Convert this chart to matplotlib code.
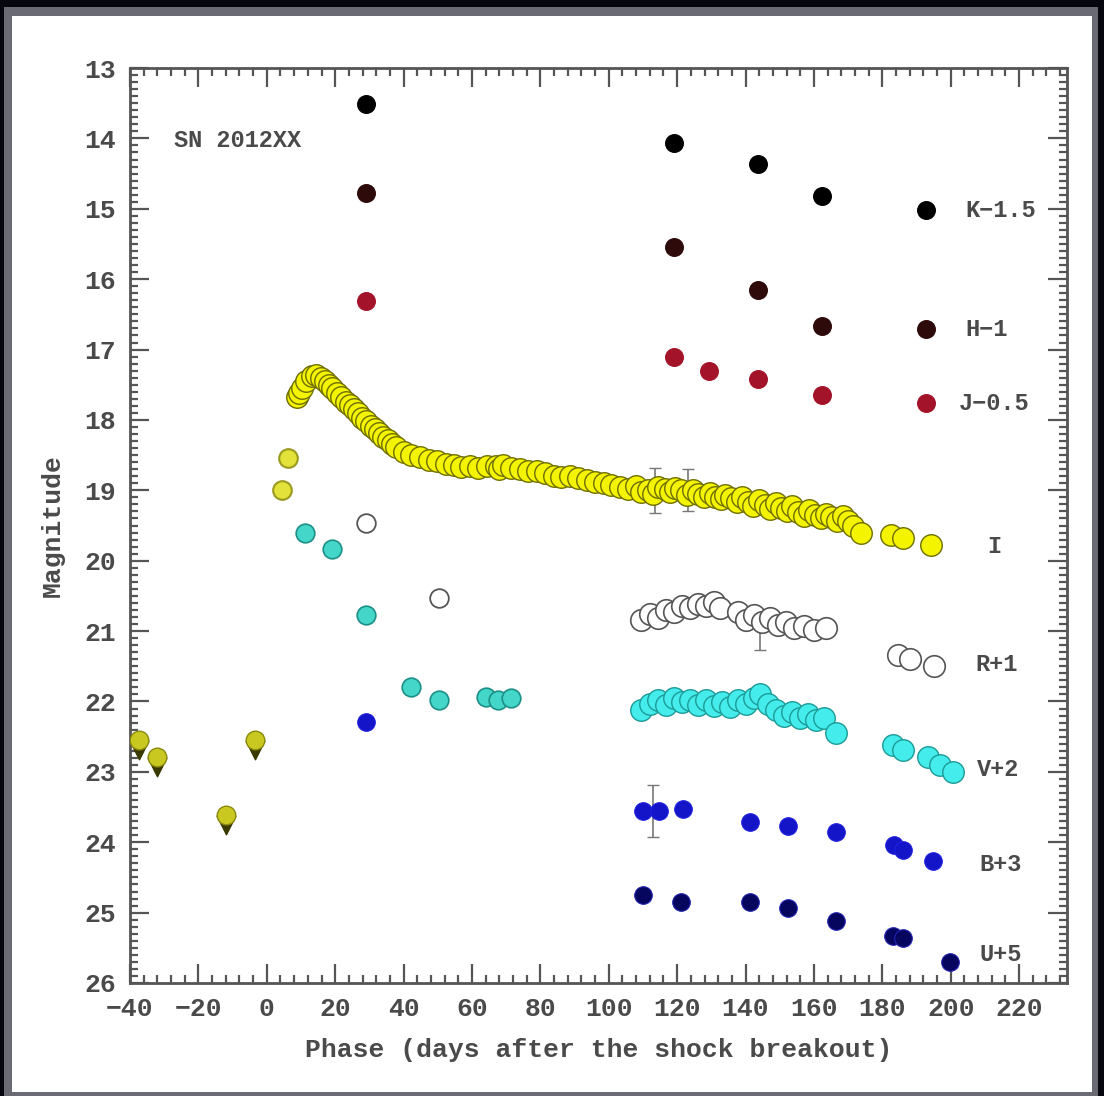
import matplotlib
matplotlib.use("Agg")
import matplotlib.pyplot as plt
from matplotlib.patches import Rectangle
from matplotlib.ticker import MultipleLocator

# ---- data (phase in days, magnitude with offsets) ----
K_x = [28.9, 119.1, 143.6, 162.3, 192.7]
K_y = [13.51, 14.07, 14.36, 14.82, 15.02]

H_x = [28.9, 119.1, 143.6, 162.3, 192.7]
H_y = [14.78, 15.54, 16.15, 16.66, 16.71]

J_x = [28.9, 119.1, 129.3, 143.6, 162.3, 192.7]
J_y = [16.31, 17.10, 17.30, 17.42, 17.64, 17.76]

I_x = [8.8, 9.5, 10.2, 11.6, 13.1, 14.4, 15.8, 17.0, 18.1, 19.2, 20.4, 21.8,
       23.1, 24.2, 25.4, 26.6, 27.7, 29.0, 30.4, 31.6, 32.7, 34.0, 35.3, 36.5,
       37.7, 40.0, 42.3, 44.8, 47.3, 49.8, 52.3, 54.6, 56.9, 59.4, 61.9, 64.4,
       66.9, 68.0, 69.2, 71.5, 74.0, 76.5, 79.0, 81.5, 84.0, 86.1, 88.6, 91.1,
       93.6, 96.1, 98.5, 100.7, 103.2, 105.7, 108.0, 109.5, 111.5, 113.0, 114.5,
       116.5, 118.0, 119.5, 121.2, 122.8, 124.5, 126.1, 127.8, 129.5, 131.1,
       132.8, 134.0, 135.8, 137.5, 139.0, 140.7, 142.2, 143.8, 145.7, 147.2,
       148.8, 150.4, 152.0, 153.6, 155.3, 157.0, 158.6, 160.3, 162.0, 163.5,
       165.0, 166.8, 168.4, 170.0, 171.5, 173.7, 182.5, 186.0, 194.2]
I_y = [17.67, 17.62, 17.55, 17.45, 17.38, 17.36, 17.40, 17.44, 17.50, 17.55,
       17.62, 17.67, 17.74, 17.79, 17.85, 17.90, 17.97, 18.02, 18.08, 18.13,
       18.19, 18.24, 18.29, 18.34, 18.39, 18.45, 18.50, 18.53, 18.57, 18.59,
       18.62, 18.64, 18.67, 18.66, 18.68, 18.66, 18.65, 18.70, 18.64, 18.68,
       18.70, 18.72, 18.73, 18.76, 18.80, 18.81, 18.80, 18.83, 18.86, 18.88,
       18.90, 18.93, 18.95, 18.98, 18.94, 19.02, 18.99, 19.05, 18.95, 18.98,
       19.03, 18.97, 19.00, 19.06, 19.00, 19.05, 19.10, 19.04, 19.09, 19.13,
       19.06, 19.11, 19.16, 19.10, 19.16, 19.22, 19.14, 19.21, 19.26, 19.18,
       19.25, 19.30, 19.23, 19.31, 19.36, 19.28, 19.35, 19.40, 19.34, 19.38,
       19.44, 19.37, 19.43, 19.50, 19.60, 19.63, 19.68, 19.78]
I_early_x = [4.4, 6.1]
I_early_y = [19.00, 18.54]
I_err_x = [113.6, 123.2]
I_err_y = [19.0, 19.0]
I_err = [0.32, 0.30]

lim_x = [-37.4, -32.1, -12.0, -3.5]
lim_y = [22.55, 22.79, 23.61, 22.55]

R_x = [28.9, 50.5, 109.5, 112.1, 114.5, 116.8, 119.1, 121.5, 123.8, 126.1,
       128.5, 130.8, 132.6, 137.8, 140.1, 142.5, 144.8, 147.2, 149.5, 151.8,
       154.2, 157.1, 160.0, 163.5, 184.5, 188.0, 195.0]
R_y = [19.46, 20.53, 20.84, 20.76, 20.81, 20.70, 20.73, 20.64, 20.67, 20.61,
       20.64, 20.59, 20.67, 20.73, 20.84, 20.77, 20.87, 20.81, 20.91, 20.87,
       20.95, 20.93, 20.98, 20.95, 21.34, 21.39, 21.49]

V_x = [11.1, 19.0, 28.9, 42.3, 50.5, 64.2, 67.7, 71.5, 109.5, 112.1, 114.5,
       116.8, 119.1, 121.5, 123.8, 126.1, 128.5, 130.8, 133.1, 135.5, 137.8,
       140.1, 142.5, 144.2, 146.6, 148.9, 151.2, 153.6, 155.9, 158.2, 160.6,
       162.9, 166.4, 183.1, 186.0, 193.3, 196.8, 200.6]
V_y = [19.61, 19.83, 20.77, 21.79, 21.98, 21.94, 21.98, 21.95, 22.12, 22.03,
       21.98, 22.05, 21.95, 22.01, 21.98, 22.05, 21.98, 22.06, 22.01, 22.08,
       21.98, 22.03, 21.95, 21.89, 22.03, 22.12, 22.20, 22.15, 22.23, 22.18,
       22.26, 22.23, 22.45, 22.62, 22.69, 22.79, 22.90, 23.00]

B_x = [28.9, 110.0, 114.6, 121.8, 141.3, 152.4, 166.4, 183.4, 186.0, 194.7]
B_y = [22.29, 23.55, 23.55, 23.53, 23.71, 23.77, 23.85, 24.04, 24.11, 24.26]
B_err_x = [113.0]
B_err_y = [23.55]
B_err = [0.37]

U_x = [110.0, 121.2, 141.3, 152.4, 166.4, 183.0, 186.0, 199.7]
U_y = [24.75, 24.85, 24.85, 24.93, 25.12, 25.33, 25.36, 25.70]

band_labels = ["K\u22121.5", "H\u22121", "J\u22120.5", "I", "R+1", "V+2", "B+3", "U+5"]
label_x = [214.6, 210.5, 212.8, 212.6, 213.5, 214.0, 214.6, 214.6]
label_y = [15.02, 16.71, 17.76, 19.80, 21.48, 22.97, 24.32, 25.60]

FONT = dict(family="Liberation Mono", fontweight="bold", color="#4a4a4a")

fig = plt.figure(figsize=(11.04, 10.96), dpi=100)
fig.patch.set_facecolor("#06060f")
# slide frame: grey border and white panel
fig.add_artist(Rectangle((4 / 1104, 0), 1094 / 1104, 1089 / 1096,
                         transform=fig.transFigure, fc="#6a6a74", ec="none", zorder=-3))
fig.add_artist(Rectangle((12 / 1104, 4 / 1096), 1080 / 1104, 1076 / 1096,
                         transform=fig.transFigure, fc="white", ec="none", zorder=-2))

ax = fig.add_axes([130 / 1104, 1 - 983 / 1096, 937 / 1104, 915 / 1096])
ax.set_facecolor("none")

ms = 160
ax.errorbar(I_err_x, I_err_y, yerr=I_err, fmt="none", ecolor="#777777", elinewidth=1.2, capsize=4, zorder=1)
ax.errorbar(B_err_x, B_err_y, yerr=B_err, fmt="none", ecolor="#777777", elinewidth=1.2, capsize=4, zorder=1)
ax.errorbar([144.2], [21.05], yerr=[0.22], fmt="none", ecolor="#777777", elinewidth=1.2, capsize=4, zorder=1)

ax.scatter(K_x, K_y, s=ms, c="#000000", zorder=3)
ax.scatter(H_x, H_y, s=ms, c="#2e0a0a", zorder=3)
ax.scatter(J_x, J_y, s=ms, c="#a3142a", zorder=3)

ax.scatter(I_x, I_y, s=240, c="#f4f400", edgecolors="#6e6e00", linewidths=1.0, zorder=3)
ax.scatter(I_early_x, I_early_y, s=180, c="#e2e23a", edgecolors="#9a9a20", linewidths=1.5, zorder=3)

ax.scatter(lim_x, [y + 0.14 for y in lim_y], s=180, marker="v", c="#3a3a00", zorder=3)
ax.scatter(lim_x, lim_y, s=180, c="#c8c820", edgecolors="#8a8a10", linewidths=1.0, zorder=4)

ax.scatter(R_x[:2], R_y[:2], s=180, facecolors="white", edgecolors="#555555", linewidths=1.3, zorder=3)
ax.scatter(R_x[2:], R_y[2:], s=240, facecolors="white", edgecolors="#555555", linewidths=1.2, zorder=3)

ax.scatter(V_x[:8], V_y[:8], s=180, c="#44d6c8", edgecolors="#1c9088", linewidths=1.2, zorder=3)
ax.scatter(V_x[8:], V_y[8:], s=240, c="#44ecec", edgecolors="#1c9a96", linewidths=1.0, zorder=3)

ax.scatter(B_x, B_y, s=ms, c="#1414c8", edgecolors="#2020e0", linewidths=0.8, zorder=3)
ax.scatter(U_x, U_y, s=ms, c="#06065e", edgecolors="#2222b0", linewidths=0.8, zorder=3)

for txt, x, y in zip(band_labels, label_x, label_y):
    ax.text(x, y, txt, ha="center", va="center", fontsize=17, **FONT)
ax.text(-27.0, 14.03, "SN 2012XX", ha="left", va="center", fontsize=17, **FONT)

ax.set_xlim(-40, 234)
ax.set_ylim(26, 13)
ax.xaxis.set_major_locator(MultipleLocator(20))
ax.xaxis.set_minor_locator(MultipleLocator(4))
ax.yaxis.set_major_locator(MultipleLocator(1))
ax.yaxis.set_minor_locator(MultipleLocator(0.1))
ax.tick_params(which="both", direction="in", top=True, right=True, color="#555555")
ax.tick_params(which="major", length=14, width=1.6, pad=10, labelsize=19, labelcolor="#4a4a4a")
ax.tick_params(which="minor", length=6, width=1.6)
for lab in ax.get_xticklabels() + ax.get_yticklabels():
    lab.set_family("Liberation Mono")
    lab.set_fontweight("bold")
for sp in ax.spines.values():
    sp.set_color("#555555")
    sp.set_linewidth(2)

ax.set_xlabel("Phase (days after the shock breakout)", fontsize=19, labelpad=12, **FONT)
ax.set_ylabel("Magnitude", fontsize=19, labelpad=14, **FONT)

fig.savefig("out.png", dpi=100, facecolor=fig.get_facecolor())
